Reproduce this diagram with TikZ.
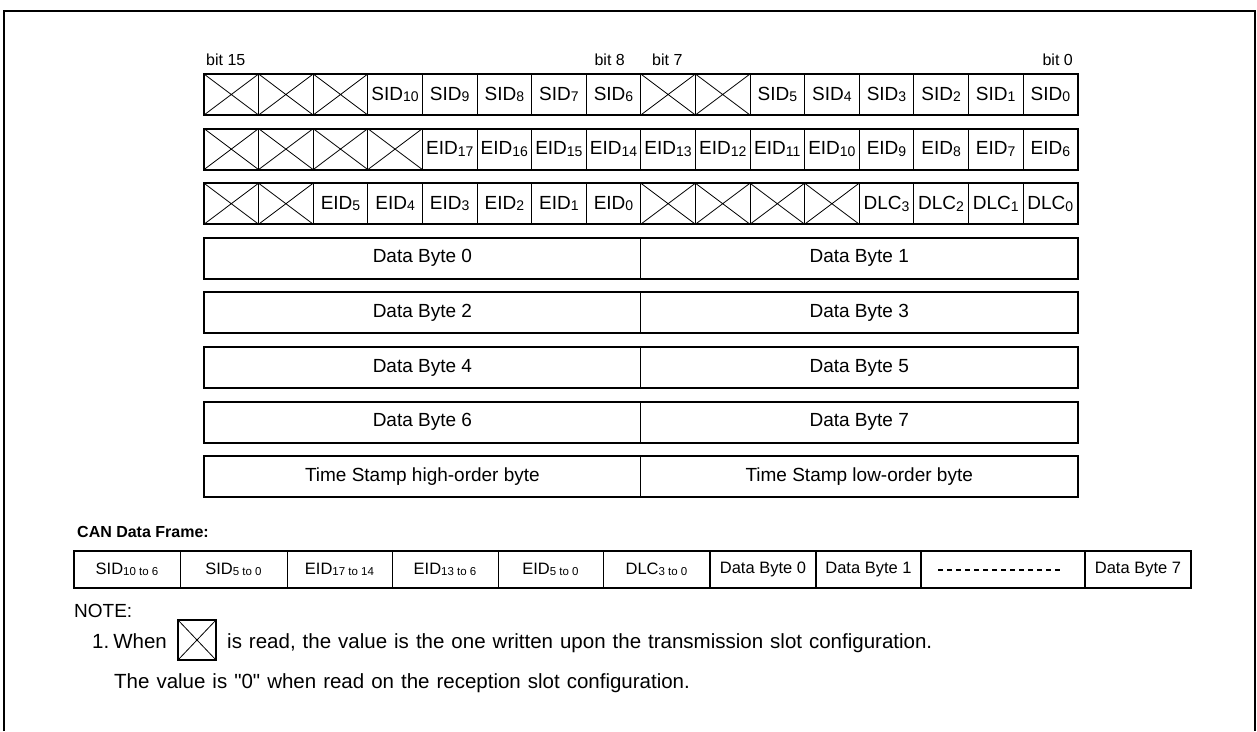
\documentclass[tikz,border=0pt]{standalone}
\usepackage{fontspec}
\setmainfont{Liberation Sans}[Ligatures=TeXOff]
\usetikzlibrary{positioning}

% lowered, smaller bit index
\newcommand{\idx}[2][14]{\raisebox{-1.5pt}{\fontsize{#1}{#1}\selectfont #2}}

\begin{document}
\begin{tikzpicture}[x=1pt,y=-1pt,
  cell/.style={draw,line width=1pt,minimum width=54.6pt,minimum height=41pt,
               inner sep=0pt,outer sep=0pt,anchor=north west,font=\fontsize{19}{19}\selectfont},
  resv/.style={cell,path picture={\draw[line width=0.8pt]
      (path picture bounding box.north west)--(path picture bounding box.south east)
      (path picture bounding box.south west)--(path picture bounding box.north east);}},
  half/.style={cell,minimum width=436.8pt},
  frm/.style={draw,line width=1pt,minimum height=37pt,inner sep=0pt,outer sep=0pt,
              anchor=north west,font=\fontsize{16.5}{16.5}\selectfont},
  frmd/.style={frm,line width=1.8pt},
  bitlbl/.style={font=\fontsize{16}{16}\selectfont,inner sep=0pt},
  note/.style={font={\fontsize{20.5}{20.5}\selectfont\spaceskip=7pt\relax},
               inner sep=0pt,anchor=base west},
  thickbox/.style={line width=2pt}]

  \useasboundingbox (0,0) rectangle (1257,731);
  \draw[thickbox] (4,731) -- (4,11) -- (1255,11) -- (1255,731);

  % Bit numbering
  \node[bitlbl,anchor=west] (b15) at (206,60)  {bit 15};
  \node[bitlbl,anchor=east] (b8)  at (625,60)  {bit 8};
  \node[bitlbl,anchor=west] (b7)  at (652,60)  {bit 7};
  \node[bitlbl,anchor=east] (b0)  at (1073,60) {bit 0};

  % Word 0: standard ID
  \foreach \s/\t [count=\i from 0] in {resv/{},resv/{},resv/{},cell/SID\idx{10},cell/SID\idx{9},
      cell/SID\idx{8},cell/SID\idx{7},cell/SID\idx{6},resv/{},resv/{},cell/SID\idx{5},
      cell/SID\idx{4},cell/SID\idx{3},cell/SID\idx{2},cell/SID\idx{1},cell/SID\idx{0}}
    \node[\s] (sid\i) at ({204+54.6*\i},74) {\t};
  \draw[thickbox] (sid0.north west) rectangle (sid15.south east);

  % Word 1: extended ID high part
  \foreach \s/\t [count=\i from 0] in {resv/{},resv/{},resv/{},resv/{},cell/EID\idx{17},
      cell/EID\idx{16},cell/EID\idx{15},cell/EID\idx{14},cell/EID\idx{13},cell/EID\idx{12},
      cell/EID\idx{11},cell/EID\idx{10},cell/EID\idx{9},cell/EID\idx{8},cell/EID\idx{7},cell/EID\idx{6}}
    \node[\s] (eid\i) at ({204+54.6*\i},128.6) {\t};
  \draw[thickbox] (eid0.north west) rectangle (eid15.south east);

  % Word 2: extended ID low part and DLC
  \foreach \s/\t [count=\i from 0] in {resv/{},resv/{},cell/EID\idx{5},cell/EID\idx{4},
      cell/EID\idx{3},cell/EID\idx{2},cell/EID\idx{1},cell/EID\idx{0},resv/{},resv/{},resv/{},
      resv/{},cell/DLC\idx{3},cell/DLC\idx{2},cell/DLC\idx{1},cell/DLC\idx{0}}
    \node[\s] (dlc\i) at ({204+54.6*\i},183.2) {\t};
  \draw[thickbox] (dlc0.north west) rectangle (dlc15.south east);

  % Data words and time stamp
  \foreach \a/\b [count=\k from 3] in {Data Byte 0/Data Byte 1,Data Byte 2/Data Byte 3,
      Data Byte 4/Data Byte 5,Data Byte 6/Data Byte 7,
      Time Stamp high-order byte/Time Stamp low-order byte}
  {
    \node[half] (w\k l) at (204,{74+54.6*\k}) {\a};
    \node[half] (w\k r) at (640.8,{74+54.6*\k}) {\b};
    \draw[thickbox] (w\k l.north west) rectangle (w\k r.south east);
  }

  % CAN data frame
  \node[font=\bfseries\fontsize{16}{16}\selectfont,anchor=west,inner sep=0pt]
    (cantitle) at (77,532) {CAN Data Frame:};
  \foreach \s/\xa/\xb/\t [count=\i] in {frm/74/180/SID\idx[11.5]{10 to 6},
      frm/180/287/SID\idx[11.5]{5 to 0},frm/287/392/EID\idx[11.5]{17 to 14},
      frm/392/498/EID\idx[11.5]{13 to 6},frm/498/603/EID\idx[11.5]{5 to 0},
      frm/603/710/DLC\idx[11.5]{3 to 0},frmd/710/816/Data Byte 0,frmd/816/921/Data Byte 1,
      frmd/921/1085/{},frmd/1085/1191/Data Byte 7}
    \node[\s,minimum width={(\xb-\xa)*1pt}] (f\i) at (\xa,551) {\t};
  \draw[thickbox] (f1.north west) rectangle (f10.south east);
  \draw[line width=2pt,dash pattern=on 5pt off 4pt]
    ([xshift=17pt]f9.west) -- ([xshift=-25pt]f9.east);

  % Note
  \node[note,font=\fontsize{19}{19}\selectfont] (notehd) at (74,617) {NOTE:};
  \node[note] (when) at (92,648) {1.\hspace{4pt}When};
  \node[resv,line width=1.5pt,minimum width=38pt,minimum height=40pt] (icon) at (178,620) {};
  \node[note] (read) at (227,648)
    {is read, the value is the one written upon the transmission slot configuration.};
  \node[note] (recv) at (114,688)
    {The value is "0" when read on the reception slot configuration.};
\end{tikzpicture}
\end{document}
